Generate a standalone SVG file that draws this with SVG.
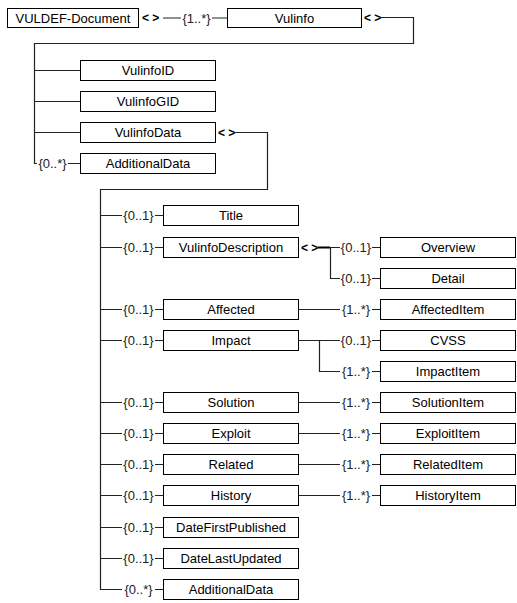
<svg xmlns="http://www.w3.org/2000/svg" width="517" height="603" viewBox="0 0 517 603">
<style>
.box{fill:#fff;stroke:#000;stroke-width:1}
.t{font-family:"Liberation Sans",Arial,sans-serif;font-size:13px;fill:#000;text-anchor:middle;dominant-baseline:central}
.m{font-family:"Liberation Sans",Arial,sans-serif;font-size:13px;fill:#222;text-anchor:middle;dominant-baseline:central}
.c{font-family:"Liberation Sans",Arial,sans-serif;font-size:12px;font-weight:bold;fill:#000;dominant-baseline:central}
.ln{fill:none;stroke:#222;stroke-width:1.2}
.bl{fill:none;stroke:#000;stroke-width:2}
</style>
<rect width="517" height="603" fill="#fff"/>
<g id="connectors">
<path class="ln" d="M163 18 H181 M212 18 H227.5"/>
<text class="m" x="196.5" y="18">{1..*}</text>
<text class="c" x="142" y="18">&lt; &gt;</text>
<text class="c" x="364" y="17.5">&lt; &gt;</text>
<path class="ln" d="M380 17.5 H413.5 V43.5 H34.5 V163.5 H37 M68 163.5 H80.5 M34.5 70.5 H80.5 M34.5 101.5 H80.5 M34.5 132.5 H80.5"/>
<text class="m" x="52.5" y="163.5">{0..*}</text>
<text class="c" x="218" y="132.5">&lt; &gt;</text>
<path class="ln" d="M235 132.5 H267.5 V189.5 H100.5 V589.5 H122"/>
<path class="ln" d="M100.5 215.5 H122 M100.5 247.5 H122 M100.5 309.5 H122 M100.5 340.5 H122 M100.5 402.5 H122 M100.5 433.5 H122 M100.5 464.5 H122 M100.5 495.5 H122 M100.5 527.5 H122 M100.5 558.5 H122"/>
<path class="ln" d="M155 215.5 H163 M155 247.5 H163 M155 309.5 H163 M155 340.5 H163 M155 402.5 H163 M155 433.5 H163 M155 464.5 H163 M155 495.5 H163 M155 527.5 H163 M155 558.5 H163 M155 589.5 H163"/>
<g class="m">
<text x="138.5" y="215.5">{0..1}</text>
<text x="138.5" y="247.5">{0..1}</text>
<text x="138.5" y="309.5">{0..1}</text>
<text x="138.5" y="340.5">{0..1}</text>
<text x="138.5" y="402.5">{0..1}</text>
<text x="138.5" y="433.5">{0..1}</text>
<text x="138.5" y="464.5">{0..1}</text>
<text x="138.5" y="495.5">{0..1}</text>
<text x="138.5" y="527.5">{0..1}</text>
<text x="138.5" y="558.5">{0..1}</text>
<text x="138.5" y="589.5">{0..*}</text>
</g>
<text class="c" x="301" y="247.5">&lt; &gt;</text>
<path class="bl" d="M318 247.5 H330"/>
<path class="ln" d="M330 247.5 H340 M330.5 247.5 V278.5 H340"/>
<path class="ln" d="M299 309.5 H340 M299 340.5 H340 M319.5 340.5 V371.5 H340 M299 402.5 H340 M299 433.5 H340 M299 464.5 H340 M299 495.5 H340"/>
<path class="ln" d="M372 247.5 H380 M372 278.5 H380 M372 309.5 H380 M372 340.5 H380 M372 371.5 H380 M372 402.5 H380 M372 433.5 H380 M372 464.5 H380 M372 495.5 H380"/>
<g class="m">
<text x="356" y="247.5">{0..1}</text>
<text x="356" y="278.5">{0..1}</text>
<text x="356" y="309.5">{1..*}</text>
<text x="356" y="340.5">{0..1}</text>
<text x="356" y="371.5">{1..*}</text>
<text x="356" y="402.5">{1..*}</text>
<text x="356" y="433.5">{1..*}</text>
<text x="356" y="464.5">{1..*}</text>
<text x="356" y="495.5">{1..*}</text>
</g>
</g>
<g id="n-doc"><rect class="box" x="7.5" y="8.5" width="131" height="19"/><text class="t" x="73" y="18">VULDEF-Document</text></g>
<g id="n-vulinfo"><rect class="box" x="227.5" y="8.5" width="134" height="19"/><text class="t" x="294.5" y="18">Vulinfo</text></g>
<g id="n-vid"><rect class="box" x="80.5" y="60.5" width="135" height="20"/><text class="t" x="148" y="70.5">VulinfoID</text></g>
<g id="n-vgid"><rect class="box" x="80.5" y="91.5" width="135" height="20"/><text class="t" x="148" y="101.5">VulinfoGID</text></g>
<g id="n-vdata"><rect class="box" x="80.5" y="122.5" width="135" height="20"/><text class="t" x="148" y="132.5">VulinfoData</text></g>
<g id="n-add1"><rect class="box" x="80.5" y="153.5" width="135" height="20"/><text class="t" x="148" y="163.5">AdditionalData</text></g>
<g id="n-title"><rect class="box" x="163.5" y="205.5" width="135" height="20"/><text class="t" x="231" y="215.5">Title</text></g>
<g id="n-vdesc"><rect class="box" x="163.5" y="237.5" width="135" height="20"/><text class="t" x="231" y="247.5">VulinfoDescription</text></g>
<g id="n-affected"><rect class="box" x="163.5" y="299.5" width="135" height="20"/><text class="t" x="231" y="309.5">Affected</text></g>
<g id="n-impact"><rect class="box" x="163.5" y="330.5" width="135" height="20"/><text class="t" x="231" y="340.5">Impact</text></g>
<g id="n-solution"><rect class="box" x="163.5" y="392.5" width="135" height="20"/><text class="t" x="231" y="402.5">Solution</text></g>
<g id="n-exploit"><rect class="box" x="163.5" y="423.5" width="135" height="20"/><text class="t" x="231" y="433.5">Exploit</text></g>
<g id="n-related"><rect class="box" x="163.5" y="454.5" width="135" height="20"/><text class="t" x="231" y="464.5">Related</text></g>
<g id="n-history"><rect class="box" x="163.5" y="485.5" width="135" height="20"/><text class="t" x="231" y="495.5">History</text></g>
<g id="n-dfp"><rect class="box" x="163.5" y="517.5" width="135" height="20"/><text class="t" x="231" y="527.5">DateFirstPublished</text></g>
<g id="n-dlu"><rect class="box" x="163.5" y="548.5" width="135" height="20"/><text class="t" x="231" y="558.5">DateLastUpdated</text></g>
<g id="n-add2"><rect class="box" x="163.5" y="579.5" width="135" height="20"/><text class="t" x="231" y="589.5">AdditionalData</text></g>
<g id="n-overview"><rect class="box" x="380.5" y="237.5" width="135" height="20"/><text class="t" x="448" y="247.5">Overview</text></g>
<g id="n-detail"><rect class="box" x="380.5" y="268.5" width="135" height="20"/><text class="t" x="448" y="278.5">Detail</text></g>
<g id="n-affitem"><rect class="box" x="380.5" y="299.5" width="135" height="20"/><text class="t" x="448" y="309.5">AffectedItem</text></g>
<g id="n-cvss"><rect class="box" x="380.5" y="330.5" width="135" height="20"/><text class="t" x="448" y="340.5">CVSS</text></g>
<g id="n-impitem"><rect class="box" x="380.5" y="361.5" width="135" height="20"/><text class="t" x="448" y="371.5">ImpactItem</text></g>
<g id="n-solitem"><rect class="box" x="380.5" y="392.5" width="135" height="20"/><text class="t" x="448" y="402.5">SolutionItem</text></g>
<g id="n-expitem"><rect class="box" x="380.5" y="423.5" width="135" height="20"/><text class="t" x="448" y="433.5">ExploitItem</text></g>
<g id="n-relitem"><rect class="box" x="380.5" y="454.5" width="135" height="20"/><text class="t" x="448" y="464.5">RelatedItem</text></g>
<g id="n-histitem"><rect class="box" x="380.5" y="485.5" width="135" height="20"/><text class="t" x="448" y="495.5">HistoryItem</text></g>
</svg>
